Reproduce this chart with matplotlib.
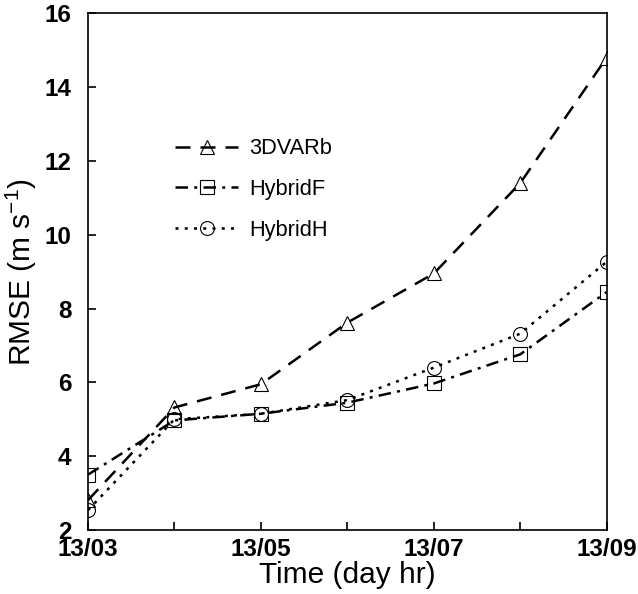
import matplotlib
matplotlib.use("Agg")
import matplotlib.pyplot as plt

hours = [3, 4, 5, 6, 7, 8, 9]
tick_labels = ["13/03", "", "13/05", "", "13/07", "", "13/09"]
dvar3b = [2.81, 5.32, 5.95, 7.62, 8.95, 11.40, 14.80]
hybridF = [3.50, 4.97, 5.15, 5.45, 5.97, 6.76, 8.45]
hybridH = [2.54, 5.00, 5.15, 5.52, 6.40, 7.32, 9.27]

plt.rcParams['font.family'] = ['Liberation Sans', 'DejaVu Sans']
plt.rcParams['mathtext.fontset'] = 'custom'
plt.rcParams['mathtext.rm'] = 'Liberation Sans'

fig = plt.figure(figsize=(6.38, 5.94), dpi=100)
ax = fig.add_axes([0.138, 0.1077, 0.813, 0.870])

mk = dict(markerfacecolor='none', markeredgecolor='black', markersize=10, markeredgewidth=0.8)
ax.plot(hours, dvar3b, color='black', lw=1.8, dashes=(6, 4), marker='^', label='3DVARb', **mk)
ax.plot(hours, hybridF, color='black', lw=1.8, dashes=(5, 2.5, 1.2, 2.5), marker='s', label='HybridF', **mk)
ax.plot(hours, hybridH, color='black', lw=1.8, dashes=(1.2, 2.5), marker='o', label='HybridH', **mk)

ax.set_xlim(3, 9)
ax.set_ylim(2, 16)
ax.set_xticks(hours)
ax.set_xticklabels(tick_labels)
ax.set_yticks([2, 4, 6, 8, 10, 12, 14, 16])
ax.tick_params(direction='in', length=6, width=1.2, labelsize=17.5)
ax.tick_params(axis='x', pad=6)
ax.tick_params(axis='y', pad=12)
for lab in ax.get_xticklabels() + ax.get_yticklabels():
    lab.set_fontweight('bold')
for s in ax.spines.values():
    s.set_linewidth(1.2)

ax.set_xlabel('Time (day hr)', fontsize=21.5, labelpad=0)
ax.set_ylabel('RMSE (m s$^{\\mathrm{-1}}$)', fontsize=21.5, labelpad=4)

leg = ax.legend(loc='upper left', bbox_to_anchor=(0.168, 0.758), frameon=False,
                fontsize=15.7, handlelength=2.9, handletextpad=0.5, labelspacing=0.9,
                borderpad=0, borderaxespad=0)

fig.savefig('out.png', dpi=100)
